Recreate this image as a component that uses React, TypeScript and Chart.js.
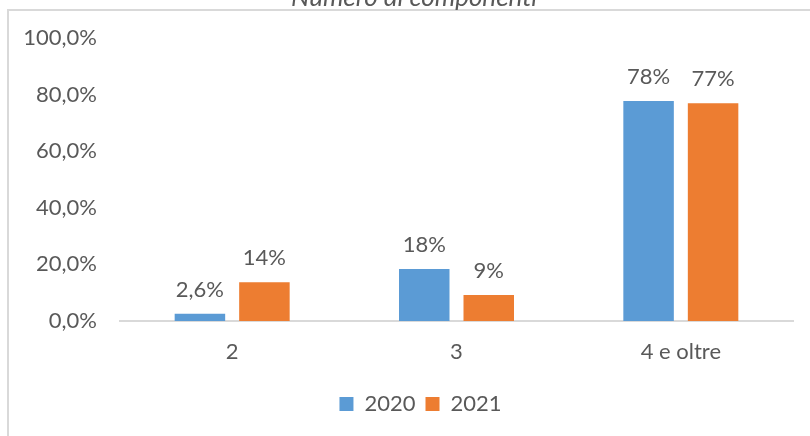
import React, { useEffect, useRef } from "react";
import { Chart, registerables } from "chart.js";

Chart.register(...registerables);

const titleText = "Numero di componenti";
const categories = ["2", "3", "4 e oltre"];
const seriesNames = ["2020", "2021"];
const values2020 = [2.6, 18.4, 77.7];
const values2021 = [13.7, 9.2, 76.9];
const labels2020 = ["2,6%", "18%", "78%"];
const labels2021 = ["14%", "9%", "77%"];
const yTickLabels = ["0,0%", "20,0%", "40,0%", "60,0%", "80,0%", "100,0%"];

const FONT = "Lato, 'Noto Sans', sans-serif";
const GRAY = "#595959";

export default function App() {
  const ref = useRef<HTMLCanvasElement | null>(null);

  useEffect(() => {
    if (!ref.current) return;
    const dataLabels = [labels2020, labels2021];

    const framePlugin = {
      id: "frameTitle",
      afterLayout(chart: any) {
        const l = chart.legend;
        if (l) {
          l.left += 24;
          l.right += 24;
        }
      },
      beforeDraw(chart: any) {
        const ctx = chart.ctx;
        ctx.save();
        ctx.fillStyle = "#ffffff";
        ctx.fillRect(0, 0, chart.width, chart.height);
        ctx.strokeStyle = "#d9d9d9";
        ctx.lineWidth = 2;
        ctx.strokeRect(8, 10, 900, 600);
        ctx.fillStyle = GRAY;
        ctx.font = "italic 26px " + FONT;
        ctx.textAlign = "center";
        ctx.textBaseline = "alphabetic";
        ctx.fillText(titleText, 414, 6);
        ctx.restore();
      },
      afterDatasetsDraw(chart: any) {
        const ctx = chart.ctx;
        ctx.save();
        ctx.fillStyle = GRAY;
        ctx.font = "22px " + FONT;
        ctx.textAlign = "center";
        ctx.textBaseline = "alphabetic";
        chart.data.datasets.forEach((ds: any, di: number) => {
          const meta = chart.getDatasetMeta(di);
          meta.data.forEach((bar: any, i: number) => {
            ctx.fillText(dataLabels[di][i], bar.x, bar.y - 17);
          });
        });
        ctx.restore();
      },
    };

    const chart = new Chart(ref.current, {
      type: "bar",
      data: {
        labels: categories,
        datasets: [
          {
            label: seriesNames[0],
            data: values2020,
            backgroundColor: "#5B9BD5",
            categoryPercentage: 0.575,
            barPercentage: 0.783,
          },
          {
            label: seriesNames[1],
            data: values2021,
            backgroundColor: "#ED7D31",
            categoryPercentage: 0.575,
            barPercentage: 0.783,
          },
        ],
      },
      options: {
        responsive: false,
        animation: false,
        devicePixelRatio: 1,
        layout: { padding: { top: 38, left: 0, right: 17, bottom: 11 } },
        plugins: {
          title: { display: false },
          tooltip: { enabled: false },
          legend: {
            position: "bottom",
            labels: {
              boxWidth: 14,
              boxHeight: 14,
              padding: 10,
              color: GRAY,
              font: { family: FONT, size: 22 },
            },
          },
        },
        scales: {
          x: {
            grid: { display: false, drawTicks: false },
            border: { display: true, color: "#d9d9d9", width: 2 },
            ticks: { color: GRAY, padding: 18, font: { family: FONT, size: 22 } },
            afterFit(scale: any) {
              scale.height = 62;
            },
          },
          y: {
            min: 0,
            max: 100,
            grid: { display: false, drawTicks: false },
            border: { display: false },
            ticks: {
              stepSize: 20,
              color: GRAY,
              padding: 23,
              font: { family: FONT, size: 22 },
              callback: (_v: any, i: number) => yTickLabels[i],
            },
            afterFit(scale: any) {
              scale.width = 120;
            },
          },
        },
      },
      plugins: [framePlugin],
    } as any);
    return () => chart.destroy();
  }, []);

  return (
    <div style={{ position: "fixed", left: 0, top: 0, width: 810, height: 436 }}>
      <canvas ref={ref} width={810} height={436} style={{ display: "block" }} />
    </div>
  );
}
